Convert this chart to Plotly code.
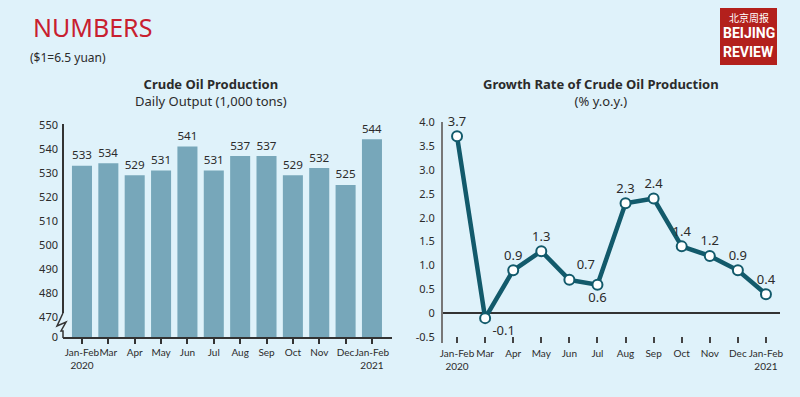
import plotly.graph_objects as go

months = ["Jan-Feb<br>2020", "Mar", "Apr", "May", "Jun", "Jul", "Aug", "Sep", "Oct", "Nov", "Dec", "Jan-Feb<br>2021"]
output = [533, 534, 529, 531, 541, 531, 537, 537, 529, 532, 525, 544]
growth = [3.7, -0.1, 0.9, 1.3, 0.7, 0.6, 2.3, 2.4, 1.4, 1.2, 0.9, 0.4]
growth_pos = ["top center", "bottom right", "top center", "top center", "top right", "bottom center",
              "top center", "top center", "top center", "top center", "top center", "top center"]
left_ticks = [461.7, 470, 480, 490, 500, 510, 520, 530, 540, 550]
left_ticktext = ["0", "470", "480", "490", "500", "510", "520", "530", "540", "550"]
right_ticks = [-0.5, 0, 0.5, 1.0, 1.5, 2.0, 2.5, 3.0, 3.5, 4.0]
right_ticktext = ["-0.5", "0", "0.5", "1.0", "1.5", "2.0", "2.5", "3.0", "3.5", "4.0"]

BG = "#dff2fa"
BAR = "#77a7ba"
LINE = "#125a6b"
TXT = "#2b2b2b"
FONT = "Noto Sans, Open Sans, sans-serif"
TFONT = "Lato, Noto Sans, sans-serif"

W, H = 800, 397
def px(x): return x / W
def py(y): return (H - y) / H

fig = go.Figure()
idx = list(range(len(months)))

fig.add_trace(go.Bar(
    x=idx, y=output, marker=dict(color=BAR, line=dict(width=0)),
    text=[str(v) for v in output], textposition="outside", cliponaxis=False,
    textfont=dict(size=13, color=TXT, family=FONT),
    xaxis="x", yaxis="y", showlegend=False,
))

fig.add_trace(go.Scatter(
    x=idx, y=growth, mode="lines+markers+text",
    line=dict(color=LINE, width=4.5),
    marker=dict(size=10, color="white", line=dict(color=LINE, width=2)),
    text=[str(v) for v in growth], textposition=growth_pos,
    textfont=dict(size=13, color=TXT, family=FONT),
    cliponaxis=False, xaxis="x2", yaxis="y2", showlegend=False,
))

tickfont = dict(size=10, color=TXT, family=TFONT)
ytickfont = dict(size=11, color=TXT, family=FONT)

fig.update_layout(
    width=W, height=H, margin=dict(l=0, r=0, t=0, b=0, pad=0, autoexpand=False),
    paper_bgcolor=BG, plot_bgcolor=BG, bargap=0.24,
    font=dict(family=FONT, color=TXT),
    xaxis=dict(domain=[px(63), px(392)], range=[-0.72, 11.76], tickmode="array",
               tickvals=idx, ticktext=months, tickfont=tickfont, tickangle=0, automargin=False,
               showline=True, linecolor="#333", linewidth=2,
               ticks="outside", ticklen=5, tickcolor="#333", tickwidth=1.5,
               ticklabelstandoff=0,
               showgrid=False, zeroline=False, fixedrange=True),
    yaxis=dict(domain=[py(337), py(122)], range=[461.7, 551.2], tickmode="array", automargin=False,
               tickvals=left_ticks, ticktext=left_ticktext, tickfont=ytickfont,
               showline=False, showgrid=False, zeroline=False, ticks="", ticklabelstandoff=4),
    xaxis2=dict(domain=[px(443), px(780)], range=[-0.5, 11.5], tickmode="array", automargin=False,
                tickvals=idx, ticktext=months, tickfont=tickfont, anchor="y2", tickangle=0,
                showline=False, ticks="inside", ticklen=6, tickcolor="#444", tickwidth=1.5,
                ticklabelstandoff=3,
                showgrid=False, zeroline=False),
    yaxis2=dict(domain=[py(343), py(122)], range=[-0.62, 4.0], tickmode="array", automargin=False,
                tickvals=right_ticks, ticktext=right_ticktext, tickfont=ytickfont, anchor="x2",
                showline=True, linecolor="#777", linewidth=2, ticks="",
                showgrid=False, zeroline=True, zerolinecolor="#333", zerolinewidth=1.5,
                ticklabelstandoff=4),
)

shapes = [
    dict(type="line", xref="paper", yref="paper", x0=px(63), x1=px(63), y0=py(124), y1=py(313),
         line=dict(color="#333", width=2)),
    dict(type="path", xref="paper", yref="paper",
         path=f"M {px(63)},{py(313)} L {px(57)},{py(326)} L {px(66)},{py(322)} L {px(61)},{py(331)} L {px(63)},{py(331)} L {px(63)},{py(338)}",
         line=dict(color="#333", width=1.5)),
    dict(type="rect", xref="paper", yref="paper", x0=px(720), x1=px(777), y0=py(65), y1=py(8),
         fillcolor="#b3201c", line=dict(width=0)),
]
fig.update_layout(shapes=shapes)

annos = [
    dict(text="NUMBERS", x=px(31), y=py(27), xanchor="left", yanchor="middle",
         font=dict(size=25, color="#c8202f", family="Noto Sans, sans-serif")),
    dict(text="($1=6.5 yuan)", x=px(28), y=py(57), xanchor="left", yanchor="middle",
         font=dict(size=12, color=TXT, family=FONT)),
    dict(text="<b>Crude Oil Production</b><br>Daily Output (1,000 tons)", x=px(211), y=py(92.5),
         xanchor="center", yanchor="middle", align="center",
         font=dict(size=13, color=TXT, family=FONT)),
    dict(text="<b>Growth Rate of Crude Oil Production</b><br>(% y.o.y.)", x=px(601), y=py(92.5),
         xanchor="center", yanchor="middle", align="center",
         font=dict(size=13, color=TXT, family=FONT)),
    dict(text="北京周报", x=px(748.5), y=py(17), xanchor="center", yanchor="middle",
         font=dict(size=10, color="white", family="Noto Sans CJK SC, sans-serif")),
    dict(text="<b>BEIJING</b>", x=px(748.5), y=py(33), xanchor="center", yanchor="middle",
         font=dict(size=14, color="white", family="Roboto, sans-serif")),
    dict(text="<b>REVIEW</b>", x=px(748.5), y=py(52), xanchor="center", yanchor="middle",
         font=dict(size=14, color="white", family="Roboto, sans-serif")),
]
for a in annos:
    a.update(xref="paper", yref="paper", showarrow=False)
fig.update_layout(annotations=annos)

fig.write_html("out.html", config={"displayModeBar": False},
               post_script="document.body.style.margin='0';document.body.style.background='%s';" % BG)
